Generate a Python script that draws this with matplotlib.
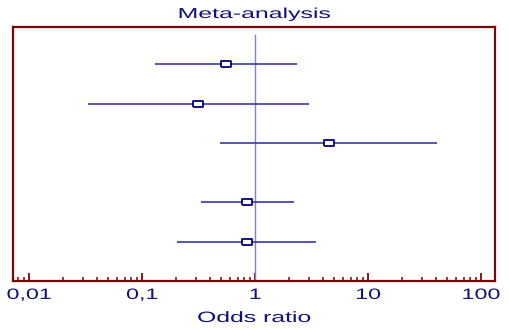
import matplotlib
matplotlib.use("Agg")
import matplotlib.pyplot as plt
from matplotlib import patheffects
from matplotlib.transforms import Affine2D
from matplotlib.ticker import LogLocator, FixedLocator, FixedFormatter

# Datos (de arriba hacia abajo)
odds_ratio = [0.55, 0.315, 4.5, 0.855, 0.855]
ic_bajo = [0.130, 0.033, 0.49, 0.333, 0.205]
ic_alto = [2.33, 3.0, 40.5, 2.21, 3.47]
fila_y = [5.5, 4.5, 3.5, 2.0, 1.0]

ticks_x = [0.01, 0.1, 1, 10, 100]
etiquetas_x = ["0,01", "0,1", "1", "10", "100"]

rojo = "#780808"
azul_linea = "#3a3aa8"
azul_texto = "#10107a"


class Estirar(patheffects.AbstractPathEffect):
    # estira el texto en horizontal alrededor de su centro
    def __init__(self, factor):
        super().__init__()
        self.factor = factor

    def draw_path(self, renderer, gc, tpath, affine, rgbFace=None):
        pts = affine.transform(tpath.vertices)
        cx = (pts[:, 0].min() + pts[:, 0].max()) / 2
        nuevo = affine + Affine2D().translate(-cx, 0).scale(self.factor, 1).translate(cx, 0)
        renderer.draw_path(gc, tpath, nuevo, rgbFace)


plt.rcParams["font.family"] = ["Liberation Sans", "DejaVu Sans"]

fig = plt.figure(figsize=(5.09, 3.30), dpi=100)
ax = fig.add_axes([13 / 509, 49 / 330, 482 / 509, 254 / 330])

ax.axvline(1, ymin=0, ymax=0.968, color="#7e7ee0", lw=1.0)

caja = [(-5, -3), (5, -3), (5, 3), (-5, 3), (-5, -3)]
for orr, lo, hi, y in zip(odds_ratio, ic_bajo, ic_alto, fila_y):
    ax.plot([lo, hi], [y, y], color=azul_linea, lw=1.2, solid_capstyle="butt")
    ax.plot(orr, y, marker=caja, markersize=7.2, markerfacecolor="white",
            markeredgecolor="#00007a", markeredgewidth=1.3, linestyle="none")

ax.set_xscale("log")
ax.set_xlim(0.0072, 133)
ax.set_ylim(0, 6.45)

ax.xaxis.set_major_locator(FixedLocator(ticks_x))
ax.xaxis.set_major_formatter(FixedFormatter(etiquetas_x))
ax.xaxis.set_minor_locator(LogLocator(base=10, subs=range(2, 10)))
ax.set_yticks([])

for lado in ax.spines.values():
    lado.set_color(rojo)
    lado.set_linewidth(1.6)

ax.tick_params(axis="x", which="major", direction="in", length=6, width=1.3,
               color=rojo, pad=5, labelsize=10.8, labelcolor=azul_texto)
ax.tick_params(axis="x", which="minor", direction="in", length=3, width=1.1, color=rojo)
for t in ax.get_xticklabels():
    t.set_path_effects([Estirar(1.55)])

titulo = ax.set_title("Meta-analysis", fontsize=10.4, color=azul_texto, y=1 + 13 / 254,
                      va="center", pad=0)
titulo.set_path_effects([Estirar(1.72)])

etiqueta = ax.set_xlabel("Odds ratio", fontsize=10.8, color=azul_texto, va="center")
ax.xaxis.set_label_coords(0.5, -37 / 254)
etiqueta.set_path_effects([Estirar(1.65)])

fig.savefig("out.png", dpi=100)
